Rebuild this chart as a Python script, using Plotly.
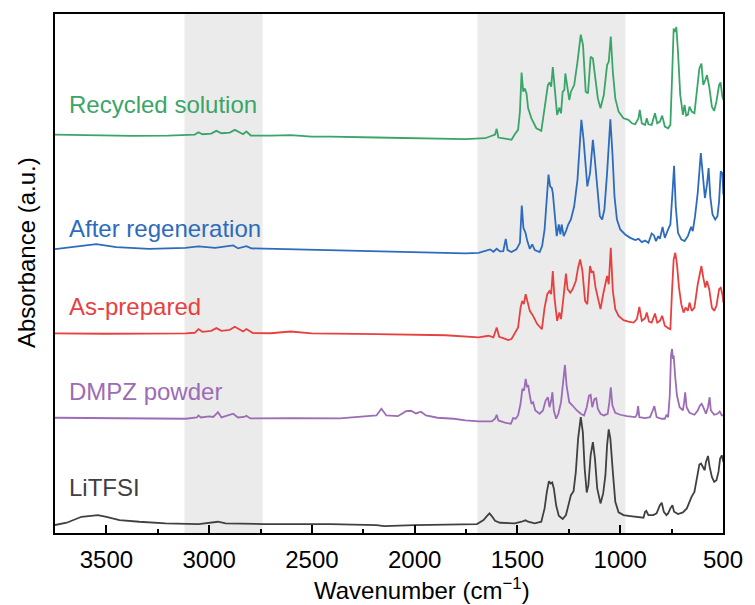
import plotly.graph_objects as go

# ---------------- data (wavenumber in cm^-1, stacked absorbance in a.u.) ----------------
wn_green = [3750,3500,3375,3200,3114,3070,3052,3033,2990,2965,2940,2900,2875,2850,2835,2819,2797,2700,2604,2500,
            2411,2186,2000,1850,1753,1657,1609,1601,1593,1545,1529,1513,1497,1488,1480,1472,1464,1456,1448,1432,
            1408,1384,1368,1352,1344,1336,1328,1320,1307,1296,1288,1280,1272,1267,1259,1248,1240,1224,1208,1192,
            1181,1168,1157,1144,1133,1120,1109,1096,1080,1064,1056,1046,1036,1024,1008,984,960,943,927,911,
            905,895,879,871,863,847,831,820,807,796,783,767,756,748,740,733,727,719,708,695,
            687,679,671,663,652,639,623,615,605,596,586,578,567,554,543,532,519,512,503,498]
abs_green = [4.00,3.99,3.987,3.99,3.997,4.0,4.023,4.003,4.01,4.037,4.013,4.02,4.047,4.02,4.003,4.03,3.99,3.99,3.995,3.98,
             3.98,3.97,3.965,3.962,3.953,3.963,4.00,4.057,3.97,3.953,3.947,4.003,4.047,4.23,4.623,4.43,4.463,4.413,4.263,4.163,
             4.063,4.037,4.263,4.497,4.523,4.48,4.677,4.463,4.197,4.27,4.213,4.43,4.447,4.613,4.48,4.347,4.43,4.497,4.73,5.003,
             4.897,4.43,4.413,4.78,4.763,4.563,4.363,4.263,4.397,4.697,4.73,4.983,4.63,4.363,4.23,4.163,4.147,4.113,4.103,4.163,
             4.247,4.113,4.097,4.163,4.103,4.097,4.213,4.113,4.13,4.19,4.08,4.063,4.097,4.563,5.063,5.03,5.08,4.83,4.397,4.197,
             4.297,4.19,4.197,4.28,4.23,4.213,4.497,4.663,4.713,4.497,4.547,4.597,4.48,4.28,4.237,4.33,4.497,4.523,4.38,4.347]

wn_blue = [3750,3645,3549,3452,3292,3116,3052,2971,2883,2859,2819,2795,2571,2186,1850,1753,1689,1649,1633,1617,
           1601,1585,1569,1557,1548,1529,1505,1488,1479,1471,1461,1452,1440,1428,1416,1392,1380,1368,1357,1349,
           1341,1333,1328,1320,1309,1299,1291,1285,1275,1264,1253,1240,1224,1208,1197,1189,1179,1168,1160,1147,
           1139,1133,1125,1112,1099,1088,1077,1064,1056,1048,1038,1028,1016,1000,976,951,927,911,895,879,
           863,847,836,826,815,807,794,783,767,756,746,738,730,719,703,687,671,663,655,647,
           636,623,615,608,599,588,578,570,562,551,538,527,519,511,503,498]
abs_blue = [2.85,2.88,2.90,2.87,2.853,2.863,2.877,2.863,2.887,2.857,2.88,2.857,2.847,2.823,2.81,2.807,2.813,2.84,2.847,2.823,
            2.853,2.827,2.83,2.953,2.84,2.82,2.847,2.913,3.287,3.063,3.013,2.93,2.853,2.897,2.84,2.82,2.88,3.047,3.347,3.597,
            3.48,3.463,3.413,3.213,2.98,3.097,2.997,3.097,2.98,3.03,3.097,3.147,3.28,3.547,3.947,4.147,3.963,3.68,3.48,3.613,
            3.813,3.947,3.78,3.447,3.18,3.147,3.247,3.613,3.947,4.153,3.813,3.38,3.147,3.047,2.997,2.963,2.94,2.953,2.92,2.937,
            2.913,3.007,2.987,2.93,2.98,2.953,3.073,2.963,3.047,3.097,3.413,3.687,3.28,3.013,2.947,2.93,2.98,3.03,3.073,3.03,
            3.18,3.413,3.68,3.813,3.613,3.363,3.497,3.663,3.38,3.197,3.147,3.18,3.33,3.63,3.613,3.397]

wn_red = [3750,3500,3114,3070,3052,3033,2990,2965,2940,2900,2875,2850,2835,2819,2787,2700,2604,2500,2411,2186,
          1850,1753,1689,1641,1617,1601,1589,1569,1545,1529,1516,1497,1485,1477,1469,1460,1452,1440,1424,1404,
          1381,1368,1355,1344,1336,1328,1320,1307,1296,1288,1278,1272,1264,1256,1243,1232,1216,1205,1195,1184,
          1171,1160,1147,1139,1131,1120,1109,1096,1083,1072,1064,1056,1046,1036,1024,1008,984,960,935,919,
          907,895,879,871,860,847,831,820,807,796,783,767,756,748,740,732,724,714,703,692,
          682,671,663,652,639,623,612,605,596,586,578,567,554,543,532,519,511,503,498]
abs_red = [2.003,2.0,2.003,2.01,2.047,2.02,2.03,2.057,2.03,2.04,2.07,2.04,2.023,2.047,2.007,2.005,2.023,2.003,2.003,1.997,
           1.985,1.97,1.963,1.98,1.963,2.063,1.97,1.957,1.937,1.947,1.99,2.063,2.263,2.33,2.297,2.397,2.33,2.23,2.18,2.097,
           2.047,2.263,2.397,2.43,2.397,2.63,2.363,2.13,2.213,2.147,2.33,2.447,2.603,2.447,2.413,2.447,2.53,2.663,2.747,2.63,
           2.33,2.297,2.68,2.613,2.63,2.463,2.363,2.247,2.397,2.497,2.58,2.497,2.863,2.43,2.247,2.18,2.137,2.123,2.113,2.147,
           2.27,2.13,2.157,2.213,2.123,2.113,2.203,2.113,2.13,2.18,2.08,2.057,2.047,2.43,2.747,2.813,2.697,2.463,2.297,2.213,
           2.263,2.23,2.313,2.23,2.263,2.497,2.63,2.68,2.563,2.463,2.53,2.447,2.263,2.23,2.28,2.447,2.463,2.397,2.313]

wn_purple = [3750,3500,3300,3114,3060,3052,3040,3000,2980,2957,2940,2910,2883,2860,2830,2819,2800,2600,2364,2186,
             2162,2138,2082,2042,2018,1994,1970,1945,1889,1809,1753,1689,1625,1609,1601,1593,1561,1532,1521,1509,
             1497,1485,1476,1468,1460,1453,1448,1440,1432,1424,1413,1392,1376,1363,1352,1344,1336,1330,1323,1312,
             1301,1288,1278,1269,1261,1248,1232,1211,1192,1176,1163,1152,1144,1136,1125,1117,1109,1096,1080,1061,
             1053,1046,1038,1024,1000,968,927,919,913,907,879,855,842,834,823,799,783,775,767,759,
             753,748,743,740,733,724,711,695,689,684,677,663,639,623,612,604,596,583,573,565,
             559,543,527,516,506,498]
abs_purple = [1.157,1.155,1.152,1.147,1.16,1.18,1.16,1.17,1.165,1.213,1.16,1.18,1.197,1.16,1.165,1.177,1.15,1.152,1.15,1.18,
              1.247,1.18,1.173,1.223,1.227,1.20,1.217,1.18,1.157,1.147,1.13,1.12,1.12,1.147,1.187,1.13,1.107,1.097,1.153,1.147,
              1.18,1.297,1.447,1.43,1.547,1.463,1.487,1.38,1.297,1.313,1.23,1.197,1.23,1.33,1.363,1.263,1.33,1.413,1.23,1.147,
              1.197,1.313,1.48,1.687,1.48,1.313,1.28,1.23,1.197,1.18,1.263,1.38,1.387,1.263,1.347,1.353,1.247,1.197,1.18,1.197,
              1.313,1.463,1.28,1.207,1.187,1.173,1.163,1.187,1.273,1.163,1.153,1.163,1.23,1.273,1.163,1.147,1.147,1.187,1.163,1.38,
              1.78,1.847,1.747,1.78,1.58,1.38,1.263,1.23,1.313,1.413,1.263,1.207,1.187,1.23,1.28,1.297,1.263,1.197,1.263,1.363,
              1.23,1.187,1.197,1.22,1.18,1.18]

wn_black = [3750,3693,3621,3581,3541,3500,3436,3340,3212,3052,2957,2920,2731,2411,2186,2148,2000,1697,1665,1649,
            1636,1625,1609,1585,1513,1480,1461,1448,1416,1384,1368,1357,1347,1339,1331,1323,1312,1299,1280,1264,
            1253,1240,1227,1216,1205,1192,1182,1173,1163,1155,1144,1133,1123,1112,1096,1083,1072,1064,1056,1048,
            1036,1024,1008,984,951,919,887,879,873,863,839,823,807,798,788,775,767,756,746,738,
            719,695,676,663,653,639,628,615,607,599,589,583,573,565,554,543,532,522,514,506,498]
abs_black = [0.08,0.103,0.163,0.17,0.18,0.163,0.13,0.113,0.097,0.09,0.113,0.097,0.09,0.09,0.08,0.07,0.08,0.09,0.13,0.17,
             0.197,0.17,0.123,0.103,0.097,0.113,0.127,0.113,0.097,0.113,0.247,0.413,0.52,0.497,0.507,0.447,0.28,0.173,0.14,0.18,
             0.28,0.38,0.42,0.613,0.947,1.163,1.013,0.647,0.407,0.48,0.78,0.913,0.747,0.447,0.297,0.397,0.58,0.88,1.04,0.947,
             0.613,0.313,0.207,0.18,0.17,0.163,0.153,0.213,0.223,0.18,0.18,0.197,0.28,0.303,0.213,0.18,0.197,0.247,0.28,0.213,
             0.19,0.207,0.247,0.313,0.363,0.413,0.547,0.687,0.697,0.663,0.63,0.713,0.773,0.663,0.563,0.513,0.53,0.613,0.747,0.78,0.713]

series_names = ["Recycled solution", "After regeneration", "As-prepared", "DMPZ powder", "LiTFSI"]
series_x = [wn_green, wn_blue, wn_red, wn_purple, wn_black]
series_y = [abs_green, abs_blue, abs_red, abs_purple, abs_black]
series_colors = ["#3aa568", "#2d6bbd", "#e8403f", "#9c6cb6", "#404040"]
label_y = [4.30, 3.06, 2.27, 1.42, 0.46]

shaded_bands = [(3120, 2740), (1695, 975)]
tick_vals = [3500, 3000, 2500, 2000, 1500, 1000, 500]
minor_vals = [3250, 2750, 2250, 1750, 1250, 750]

FONT = "Arial, Liberation Sans, Helvetica, sans-serif"
FS = 24

fig = go.Figure()
for name, xs, ys, col in zip(series_names, series_x, series_y, series_colors):
    fig.add_trace(go.Scatter(x=xs, y=ys, mode="lines", name=name,
                             line=dict(color=col, width=1.8), showlegend=False))

for x0, x1 in shaded_bands:
    fig.add_shape(type="rect", xref="x", yref="paper", x0=x0, x1=x1, y0=0, y1=1,
                  fillcolor="#ebebeb", line=dict(width=0), layer="below")

for name, ly, col in zip(series_names, label_y, series_colors):
    fig.add_annotation(x=3690, y=ly, xref="x", yref="y", text=name, showarrow=False,
                       xanchor="left", yanchor="middle", font=dict(size=FS, color=col, family=FONT))

fig.add_annotation(x=0.55, y=-0.108, xref="paper", yref="paper", text="Wavenumber (cm<sup>−1</sup>)",
                   showarrow=False, xanchor="center", yanchor="middle", borderpad=0,
                   font=dict(size=FS, color="black", family=FONT))
fig.add_annotation(x=-0.043, y=0.54, xref="paper", yref="paper", text="Absorbance (a.u.)",
                   showarrow=False, textangle=-90, xanchor="center", yanchor="middle",
                   font=dict(size=FS, color="black", family=FONT))

fig.update_layout(
    width=755, height=605,
    margin=dict(l=55, r=25, t=12, b=72),
    plot_bgcolor="white", paper_bgcolor="white",
    font=dict(family=FONT, size=FS, color="black"),
    xaxis=dict(range=[3750, 500], tickvals=tick_vals, ticks="inside", ticklen=8, tickwidth=1.5,
               tickcolor="black", showline=True, linecolor="black", linewidth=1.6, mirror=True,
               showgrid=False, zeroline=False, tickfont=dict(size=FS), ticklabelstandoff=4,
               minor=dict(tickvals=minor_vals, ticks="inside", ticklen=4,
                          tickwidth=1.5, tickcolor="black", showgrid=False)),
    yaxis=dict(range=[0, 5.21], showticklabels=False, ticks="", showline=True, linecolor="black",
               linewidth=1.6, mirror=True, showgrid=False, zeroline=False),
)

fig.write_html("out.html")
